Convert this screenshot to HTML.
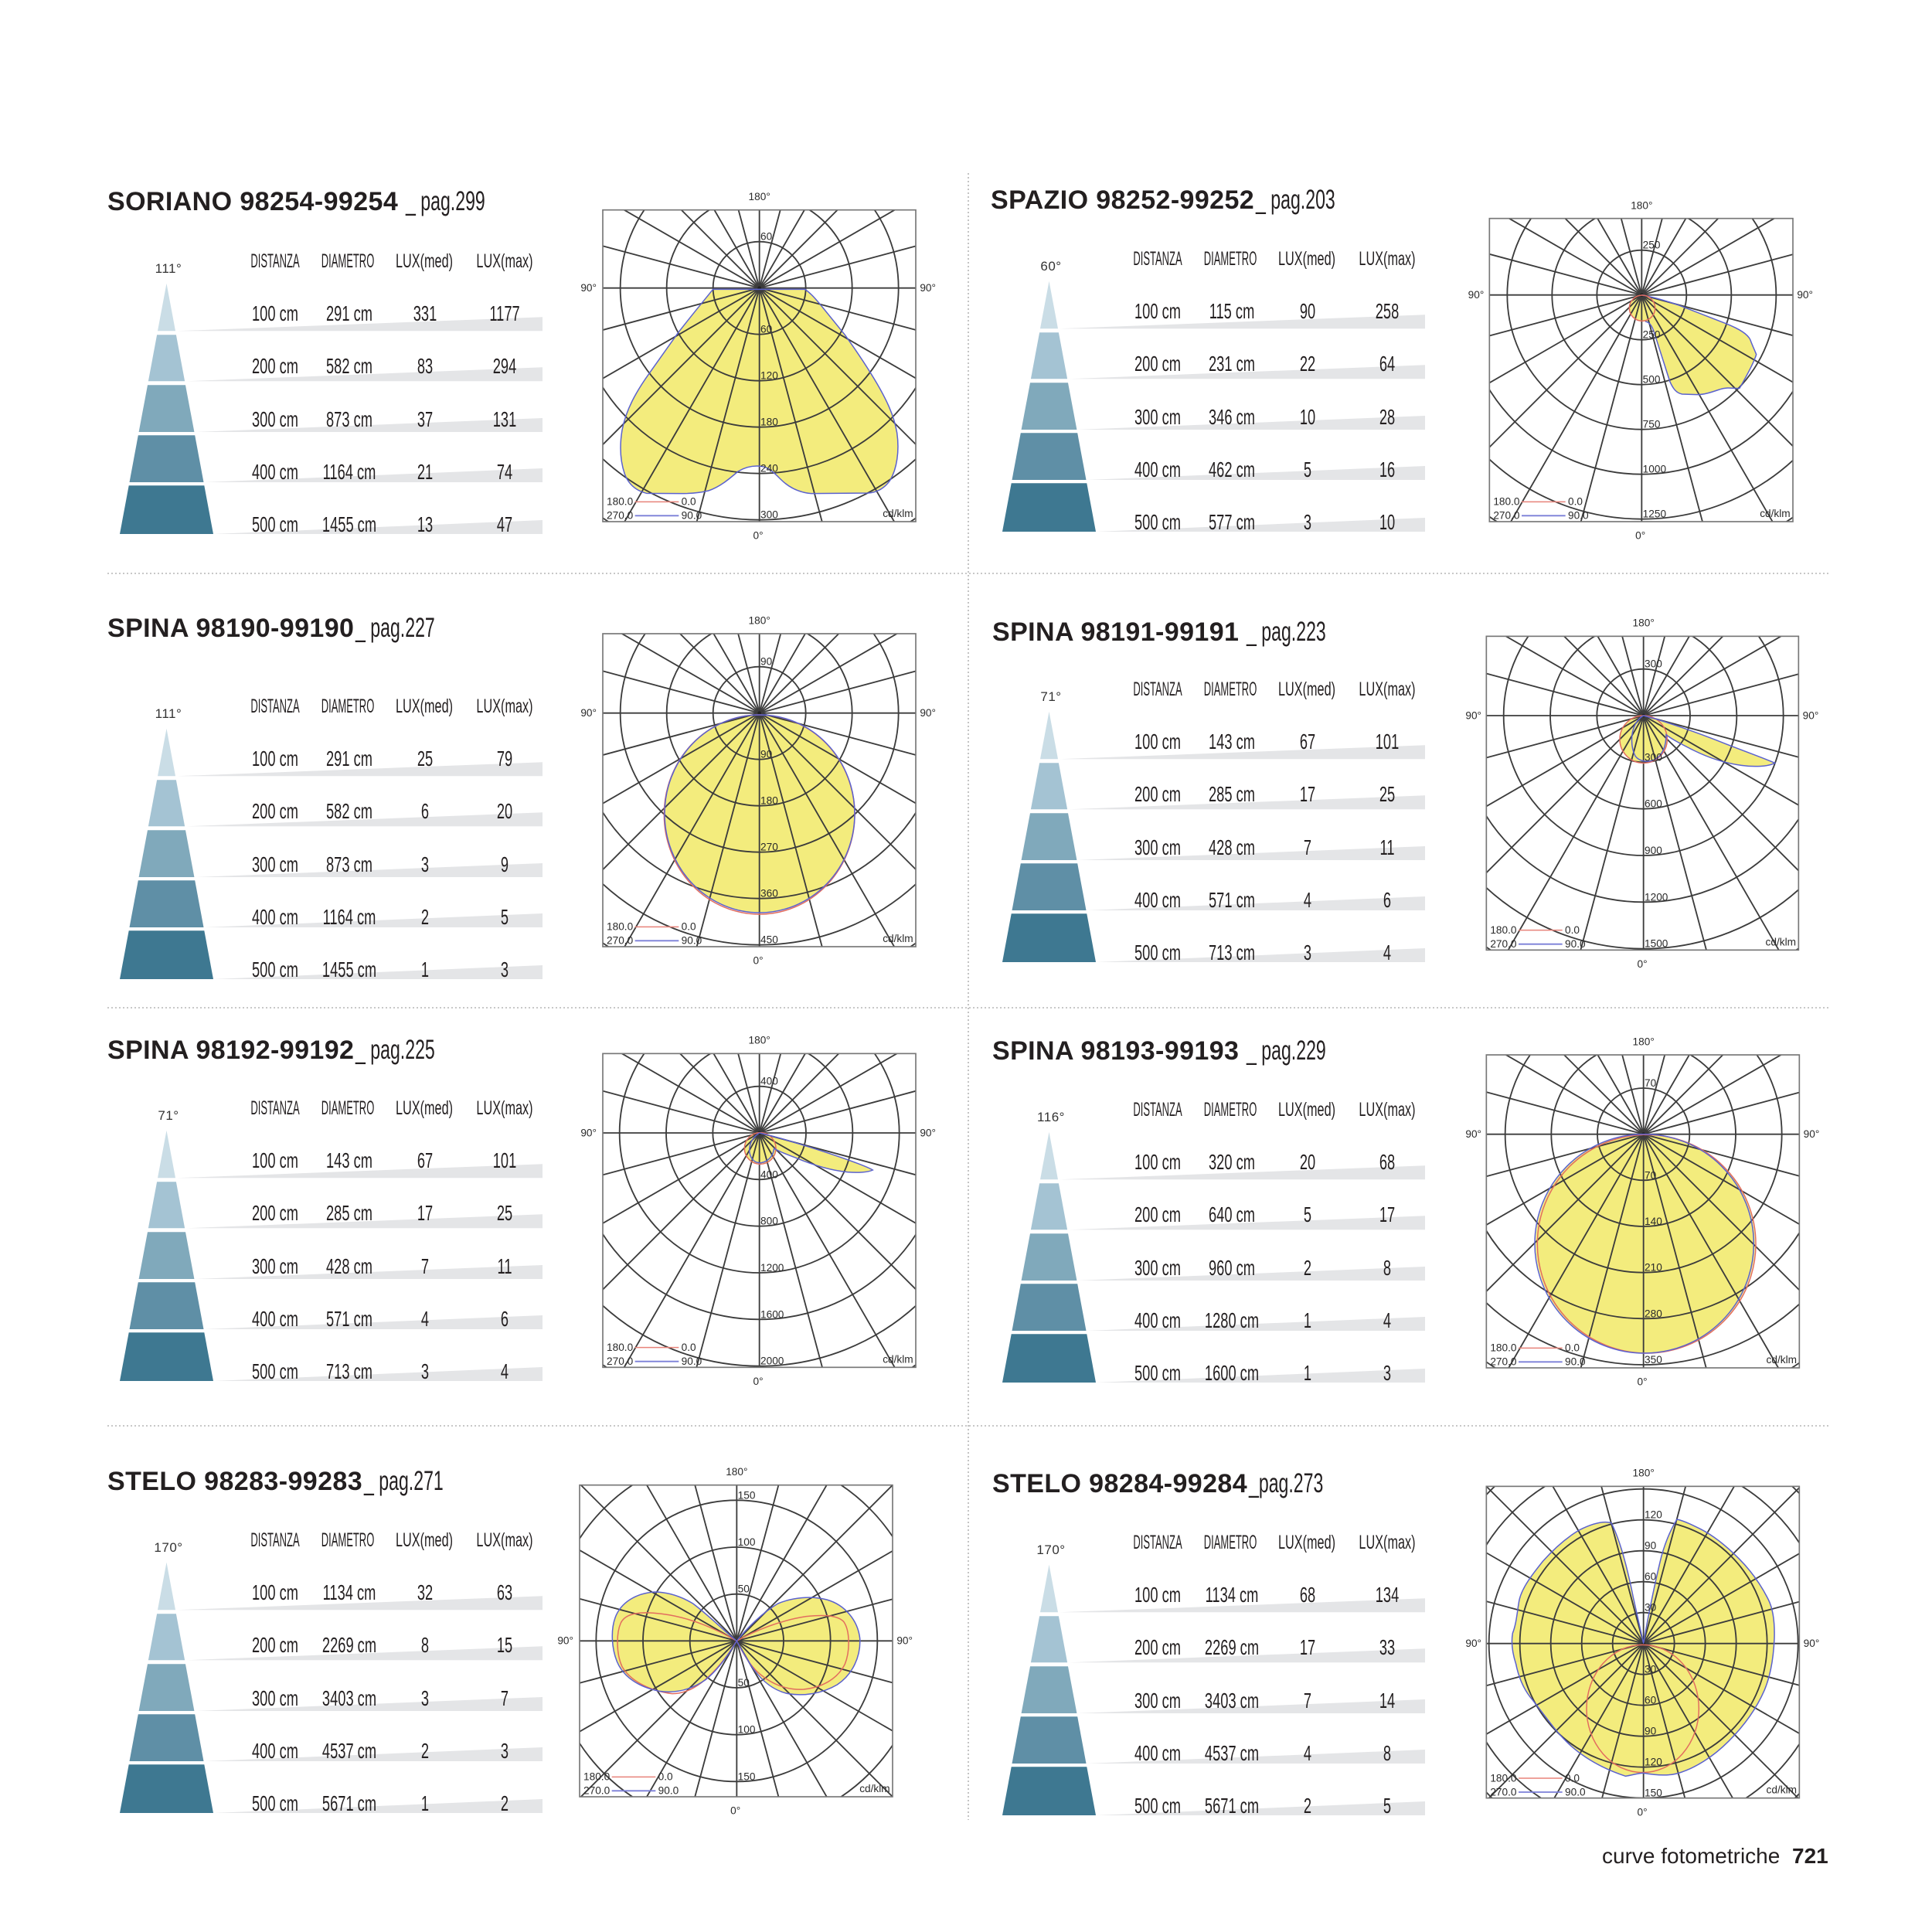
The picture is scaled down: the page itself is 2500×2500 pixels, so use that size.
<!DOCTYPE html>
<html><head><meta charset="utf-8">
<style>
html,body{margin:0;padding:0}
body{width:2500px;height:2500px;position:relative;overflow:hidden;background:#fff;font-family:"Liberation Sans",sans-serif;}
.a{position:absolute;white-space:nowrap}
.ttl{position:absolute;white-space:nowrap;font-size:34px;line-height:34px;font-weight:bold;color:#231f20;letter-spacing:0.4px}
.ttl span{display:inline-block;font-weight:normal;font-size:35px;transform:scaleX(.66);transform-origin:0 0;letter-spacing:0}
.pn{position:absolute;width:0;height:0}
.cn{position:absolute;left:0;top:0;overflow:visible}
.h,.v{position:absolute;width:300px;margin-left:-150px;text-align:center;white-space:nowrap;color:#231f20}
.h{font-size:25px;line-height:25px;top:325.8px;transform:scaleX(.52)}
.h.w{transform:scaleX(.65)}
.v{font-size:28px;line-height:28px;transform:scaleX(.653)}
.ang{position:absolute;width:100px;margin-left:-50px;left:218px;text-align:center;font-size:17px;line-height:17px;top:338.6px;letter-spacing:0.5px;color:#333}
.c1{left:356px}.c2{left:452px}.c3{left:550px}.c4{left:653px}
.hc1{left:356px}.hc2{left:450px}.hc3{left:549px}.hc4{left:653px}
.r1{top:392.3px}.r2{top:460.3px}.r3{top:529.3px}.r4{top:597.3px}.r5{top:665.3px}
.ch{position:absolute;overflow:hidden}
.ch.ov{overflow:visible}
.ch .y{fill:#f3ec7d;stroke:none}
.ch .g{stroke:#3c3c3c;stroke-width:5.5;fill:none}
.ch .bx{fill:none;stroke:#777;stroke-width:5}
.ch .bl{fill:none;stroke:#5b62cf;stroke-width:4.5}
.ch .rd{fill:none;stroke:#e26d5f;stroke-width:4.5}
.ch .lr{stroke:#e8837a;stroke-width:4.5}
.ch .lb{stroke:#7b7fd8;stroke-width:5.5}
.ch text{font-family:"Liberation Sans",sans-serif;font-size:41px;fill:#2a2a2a}
.ch text.m{text-anchor:middle}
.ch text.e{text-anchor:end}
</style></head><body>

<svg width="0" height="0" style="position:absolute;left:0;top:0">
<defs>
<g id="spk">
<line x1="0" y1="-1100" x2="0" y2="1100"/>
<line x1="285" y1="-1063" x2="-285" y2="1063"/>
<line x1="550" y1="-953" x2="-550" y2="953"/>
<line x1="778" y1="-778" x2="-778" y2="778"/>
<line x1="953" y1="-550" x2="-953" y2="550"/>
<line x1="1063" y1="-285" x2="-1063" y2="285"/>
<line x1="-1100" y1="0" x2="1100" y2="0"/>
<line x1="1063" y1="285" x2="-1063" y2="-285"/>
<line x1="953" y1="550" x2="-953" y2="-550"/>
<line x1="778" y1="778" x2="-778" y2="-778"/>
<line x1="550" y1="953" x2="-550" y2="-953"/>
<line x1="285" y1="1063" x2="-285" y2="-1063"/>
</g>
<g id="cone">
<polygon fill="#e4e5e7" points="229,428.3 702,410.3 702,428.3"/>
<polygon fill="#e4e5e7" points="241,493.3 702,475.3 702,493.3"/>
<polygon fill="#e4e5e7" points="253,559 702,541 702,559"/>
<polygon fill="#e4e5e7" points="265,624 702,606 702,624"/>
<polygon fill="#e4e5e7" points="277,691 702,673 702,691"/>
<polygon fill="#cadde6" points="215.5,366.7 227,428.3 204,428.3"/>
<polygon fill="#a4c3d3" points="203.1,433.3 227.9,433.3 239.1,493.3 191.9,493.3"/>
<polygon fill="#80a9bb" points="191,498.3 240,498.3 251.4,559 179.6,559"/>
<polygon fill="#5f8fa6" points="178.8,563.3 252.2,563.3 263.5,624 167.5,624"/>
<polygon fill="#3e7891" points="166.7,628.3 264.3,628.3 276,691 155,691"/>
</g>
</defs>
</svg>

<!-- separators -->
<svg class="a" style="left:0;top:0" width="2500" height="2500">
<g stroke="#b5b5b5" stroke-width="1.6" stroke-dasharray="2 3" fill="none">
<line x1="139" y1="742" x2="2368" y2="742"/>
<line x1="139" y1="1304" x2="2368" y2="1304"/>
<line x1="139" y1="1845" x2="2368" y2="1845"/>
<line x1="1253" y1="224" x2="1253" y2="2355"/>
</g>
</svg>

<!-- TITLES -->
<div class="ttl" style="left:139px;top:244.2px">SORIANO 98254-99254<span style="margin-left:10px">_ pag.299</span></div>
<div class="ttl" style="left:139px;top:796.2px">SPINA 98190-99190<span style="margin-left:2px">_ pag.227</span></div>
<div class="ttl" style="left:139px;top:1342.2px">SPINA 98192-99192<span style="margin-left:2px">_ pag.225</span></div>
<div class="ttl" style="left:139px;top:1900.2px">STELO 98283-99283<span style="margin-left:2px">_ pag.271</span></div>
<div class="ttl" style="left:1282px;top:242.2px">SPAZIO 98252-99252<span style="margin-left:2px">_ pag.203</span></div>
<div class="ttl" style="left:1284px;top:801.2px">SPINA 98191-99191<span style="margin-left:10px">_ pag.223</span></div>
<div class="ttl" style="left:1284px;top:1343.2px">SPINA 98193-99193<span style="margin-left:10px">_ pag.229</span></div>
<div class="ttl" style="left:1284px;top:1903.2px">STELO 98284-99284<span style="margin-left:2px">_pag.273</span></div>

<!-- PANEL L1 -->
<div class="pn" style="left:0;top:0">
<svg class="cn" width="720" height="720"><use href="#cone"/></svg>
<div class="ang">111°</div>
<div class="h hc1">DISTANZA</div><div class="h hc2">DIAMETRO</div><div class="h w hc3">LUX(med)</div><div class="h w hc4">LUX(max)</div>
<div class="v c1 r1">100 cm</div><div class="v c2 r1">291 cm</div><div class="v c3 r1">331</div><div class="v c4 r1">1177</div>
<div class="v c1 r2">200 cm</div><div class="v c2 r2">582 cm</div><div class="v c3 r2">83</div><div class="v c4 r2">294</div>
<div class="v c1 r3">300 cm</div><div class="v c2 r3">873 cm</div><div class="v c3 r3">37</div><div class="v c4 r3">131</div>
<div class="v c1 r4">400 cm</div><div class="v c2 r4">1164 cm</div><div class="v c3 r4">21</div><div class="v c4 r4">74</div>
<div class="v c1 r5">500 cm</div><div class="v c2 r5">1455 cm</div><div class="v c3 r5">13</div><div class="v c4 r5">47</div>
</div>

<!-- PANEL L2 -->
<div class="pn" style="left:0;top:576px">
<svg class="cn" width="720" height="720"><use href="#cone"/></svg>
<div class="ang">111°</div>
<div class="h hc1">DISTANZA</div><div class="h hc2">DIAMETRO</div><div class="h w hc3">LUX(med)</div><div class="h w hc4">LUX(max)</div>
<div class="v c1 r1">100 cm</div><div class="v c2 r1">291 cm</div><div class="v c3 r1">25</div><div class="v c4 r1">79</div>
<div class="v c1 r2">200 cm</div><div class="v c2 r2">582 cm</div><div class="v c3 r2">6</div><div class="v c4 r2">20</div>
<div class="v c1 r3">300 cm</div><div class="v c2 r3">873 cm</div><div class="v c3 r3">3</div><div class="v c4 r3">9</div>
<div class="v c1 r4">400 cm</div><div class="v c2 r4">1164 cm</div><div class="v c3 r4">2</div><div class="v c4 r4">5</div>
<div class="v c1 r5">500 cm</div><div class="v c2 r5">1455 cm</div><div class="v c3 r5">1</div><div class="v c4 r5">3</div>
</div>

<!-- PANEL L3 -->
<div class="pn" style="left:0;top:1096px">
<svg class="cn" width="720" height="720"><use href="#cone"/></svg>
<div class="ang">71°</div>
<div class="h hc1">DISTANZA</div><div class="h hc2">DIAMETRO</div><div class="h w hc3">LUX(med)</div><div class="h w hc4">LUX(max)</div>
<div class="v c1 r1">100 cm</div><div class="v c2 r1">143 cm</div><div class="v c3 r1">67</div><div class="v c4 r1">101</div>
<div class="v c1 r2">200 cm</div><div class="v c2 r2">285 cm</div><div class="v c3 r2">17</div><div class="v c4 r2">25</div>
<div class="v c1 r3">300 cm</div><div class="v c2 r3">428 cm</div><div class="v c3 r3">7</div><div class="v c4 r3">11</div>
<div class="v c1 r4">400 cm</div><div class="v c2 r4">571 cm</div><div class="v c3 r4">4</div><div class="v c4 r4">6</div>
<div class="v c1 r5">500 cm</div><div class="v c2 r5">713 cm</div><div class="v c3 r5">3</div><div class="v c4 r5">4</div>
</div>

<!-- PANEL L4 -->
<div class="pn" style="left:0;top:1655px">
<svg class="cn" width="720" height="720"><use href="#cone"/></svg>
<div class="ang">170°</div>
<div class="h hc1">DISTANZA</div><div class="h hc2">DIAMETRO</div><div class="h w hc3">LUX(med)</div><div class="h w hc4">LUX(max)</div>
<div class="v c1 r1">100 cm</div><div class="v c2 r1">1134 cm</div><div class="v c3 r1">32</div><div class="v c4 r1">63</div>
<div class="v c1 r2">200 cm</div><div class="v c2 r2">2269 cm</div><div class="v c3 r2">8</div><div class="v c4 r2">15</div>
<div class="v c1 r3">300 cm</div><div class="v c2 r3">3403 cm</div><div class="v c3 r3">3</div><div class="v c4 r3">7</div>
<div class="v c1 r4">400 cm</div><div class="v c2 r4">4537 cm</div><div class="v c3 r4">2</div><div class="v c4 r4">3</div>
<div class="v c1 r5">500 cm</div><div class="v c2 r5">5671 cm</div><div class="v c3 r5">1</div><div class="v c4 r5">2</div>
</div>

<!-- PANEL R1 -->
<div class="pn" style="left:1142px;top:-3px">
<svg class="cn" width="720" height="720"><use href="#cone"/></svg>
<div class="ang">60°</div>
<div class="h hc1">DISTANZA</div><div class="h hc2">DIAMETRO</div><div class="h w hc3">LUX(med)</div><div class="h w hc4">LUX(max)</div>
<div class="v c1 r1">100 cm</div><div class="v c2 r1">115 cm</div><div class="v c3 r1">90</div><div class="v c4 r1">258</div>
<div class="v c1 r2">200 cm</div><div class="v c2 r2">231 cm</div><div class="v c3 r2">22</div><div class="v c4 r2">64</div>
<div class="v c1 r3">300 cm</div><div class="v c2 r3">346 cm</div><div class="v c3 r3">10</div><div class="v c4 r3">28</div>
<div class="v c1 r4">400 cm</div><div class="v c2 r4">462 cm</div><div class="v c3 r4">5</div><div class="v c4 r4">16</div>
<div class="v c1 r5">500 cm</div><div class="v c2 r5">577 cm</div><div class="v c3 r5">3</div><div class="v c4 r5">10</div>
</div>

<!-- PANEL R2 -->
<div class="pn" style="left:1142px;top:554px">
<svg class="cn" width="720" height="720"><use href="#cone"/></svg>
<div class="ang">71°</div>
<div class="h hc1">DISTANZA</div><div class="h hc2">DIAMETRO</div><div class="h w hc3">LUX(med)</div><div class="h w hc4">LUX(max)</div>
<div class="v c1 r1">100 cm</div><div class="v c2 r1">143 cm</div><div class="v c3 r1">67</div><div class="v c4 r1">101</div>
<div class="v c1 r2">200 cm</div><div class="v c2 r2">285 cm</div><div class="v c3 r2">17</div><div class="v c4 r2">25</div>
<div class="v c1 r3">300 cm</div><div class="v c2 r3">428 cm</div><div class="v c3 r3">7</div><div class="v c4 r3">11</div>
<div class="v c1 r4">400 cm</div><div class="v c2 r4">571 cm</div><div class="v c3 r4">4</div><div class="v c4 r4">6</div>
<div class="v c1 r5">500 cm</div><div class="v c2 r5">713 cm</div><div class="v c3 r5">3</div><div class="v c4 r5">4</div>
</div>

<!-- PANEL R3 -->
<div class="pn" style="left:1142px;top:1098px">
<svg class="cn" width="720" height="720"><use href="#cone"/></svg>
<div class="ang">116°</div>
<div class="h hc1">DISTANZA</div><div class="h hc2">DIAMETRO</div><div class="h w hc3">LUX(med)</div><div class="h w hc4">LUX(max)</div>
<div class="v c1 r1">100 cm</div><div class="v c2 r1">320 cm</div><div class="v c3 r1">20</div><div class="v c4 r1">68</div>
<div class="v c1 r2">200 cm</div><div class="v c2 r2">640 cm</div><div class="v c3 r2">5</div><div class="v c4 r2">17</div>
<div class="v c1 r3">300 cm</div><div class="v c2 r3">960 cm</div><div class="v c3 r3">2</div><div class="v c4 r3">8</div>
<div class="v c1 r4">400 cm</div><div class="v c2 r4">1280 cm</div><div class="v c3 r4">1</div><div class="v c4 r4">4</div>
<div class="v c1 r5">500 cm</div><div class="v c2 r5">1600 cm</div><div class="v c3 r5">1</div><div class="v c4 r5">3</div>
</div>

<!-- PANEL R4 -->
<div class="pn" style="left:1142px;top:1658px">
<svg class="cn" width="720" height="720"><use href="#cone"/></svg>
<div class="ang">170°</div>
<div class="h hc1">DISTANZA</div><div class="h hc2">DIAMETRO</div><div class="h w hc3">LUX(med)</div><div class="h w hc4">LUX(max)</div>
<div class="v c1 r1">100 cm</div><div class="v c2 r1">1134 cm</div><div class="v c3 r1">68</div><div class="v c4 r1">134</div>
<div class="v c1 r2">200 cm</div><div class="v c2 r2">2269 cm</div><div class="v c3 r2">17</div><div class="v c4 r2">33</div>
<div class="v c1 r3">300 cm</div><div class="v c2 r3">3403 cm</div><div class="v c3 r3">7</div><div class="v c4 r3">14</div>
<div class="v c1 r4">400 cm</div><div class="v c2 r4">4537 cm</div><div class="v c3 r4">4</div><div class="v c4 r4">8</div>
<div class="v c1 r5">500 cm</div><div class="v c2 r5">5671 cm</div><div class="v c3 r5">2</div><div class="v c4 r5">5</div>
</div>

<!-- CHART A: SORIANO -->
<svg class="ch" style="left:740px;top:230px" width="500" height="480" viewBox="0 0 1500 1440">
<defs><clipPath id="kA"><rect x="120" y="125" width="1215" height="1210"/></clipPath></defs>
<path class="y" d="M548,433 L905,433 C930,450 950,475 975,505 L1060,610 C1110,680 1150,740 1185,800 C1220,860 1250,920 1262,990 C1272,1060 1262,1130 1235,1175 C1210,1210 1180,1222 1150,1224 L930,1226 C880,1222 840,1200 810,1170 C780,1140 760,1122 735,1120 C700,1116 670,1125 645,1140 C610,1170 575,1200 530,1215 C490,1225 450,1226 420,1226 L290,1225 C250,1215 220,1190 205,1150 C188,1100 185,1040 195,980 C210,900 250,830 300,760 L410,605 C460,540 510,480 548,433 Z"/>
<g clip-path="url(#kA)" class="g"><use href="#spk" x="728" y="428"/>
<g transform="translate(728 428)"><circle r="180"/><circle r="360"/><circle r="540"/><circle r="720"/><circle r="900"/><circle r="1080"/></g></g>
<circle cx="728" cy="428" r="7" fill="#222"/>
<rect class="bx" x="120" y="125" width="1215" height="1210"/>
<path class="bl" d="M548,433 L905,433 C930,450 950,475 975,505 L1060,610 C1110,680 1150,740 1185,800 C1220,860 1250,920 1262,990 C1272,1060 1262,1130 1235,1175 C1210,1210 1180,1222 1150,1224 L930,1226 C880,1222 840,1200 810,1170 C780,1140 760,1122 735,1120 C700,1116 670,1125 645,1140 C610,1170 575,1200 530,1215 C490,1225 450,1226 420,1226 L290,1225 C250,1215 220,1190 205,1150 C188,1100 185,1040 195,980 C210,900 250,830 300,760 L410,605 C460,540 510,480 548,433 Z"/>
<text x="732" y="242">60</text><text x="732" y="602">60</text><text x="732" y="782">120</text><text x="732" y="962">180</text><text x="732" y="1142">240</text><text x="732" y="1322">300</text>
<text class="m" x="728" y="87">180°</text><text class="m" x="65" y="441">90°</text><text class="m" x="1382" y="441">90°</text><text class="m" x="723" y="1403">0°</text>
<text x="135" y="1271">180.0</text><line class="lr" x1="245" y1="1258" x2="415" y2="1258"/><text x="425" y="1271">0.0</text>
<text x="135" y="1325">270.0</text><line class="lb" x1="245" y1="1312" x2="415" y2="1312"/><text x="425" y="1325">90.0</text>
<text class="e" x="1325" y="1317">cd/klm</text>
</svg>

<!-- CHART B: SPAZIO -->
<svg class="ch ov" style="left:1920px;top:240px" width="440" height="470" viewBox="0 0 1320 1410">
<defs><clipPath id="kB"><rect x="22" y="128" width="1178" height="1177"/></clipPath></defs>
<path class="y" d="M613,425 C650,432 700,445 760,466 L940,536 C990,556 1025,576 1035,600 C1042,620 1052,640 1058,656 C1048,690 1020,740 993,787 C968,790 948,781 918,791 C888,801 858,812 828,812 L770,810 C748,806 735,790 722,760 L662,572 C652,542 642,530 627,528 C602,527 582,515 571,496 C561,476 565,452 579,441 C594,430 605,426 613,425 Z"/>
<g clip-path="url(#kB)" class="g"><use href="#spk" x="613" y="425"/>
<g transform="translate(613 425)"><circle r="174"/><circle r="348"/><circle r="522"/><circle r="696"/><circle r="870"/><circle r="1044"/></g></g>
<circle cx="613" cy="425" r="7" fill="#222"/>
<rect class="bx" x="22" y="128" width="1178" height="1177"/>
<path class="bl" d="M613,425 C650,432 700,445 760,466 L940,536 C990,556 1025,576 1035,600 C1042,620 1052,640 1058,656 C1048,690 1020,740 993,787 C968,790 948,781 918,791 C888,801 858,812 828,812 L770,810 C748,806 735,790 722,760 L662,572 C652,542 642,530 627,528"/>
<circle class="rd" cx="615" cy="476" r="50"/>
<text x="617" y="245">250</text><text x="617" y="593">250</text><text x="617" y="767">500</text><text x="617" y="941">750</text><text x="617" y="1115">1000</text><text x="617" y="1289">1250</text>
<text class="m" x="613" y="92">180°</text><text class="m" x="-30" y="438">90°</text><text class="m" x="1247" y="438">90°</text><text class="m" x="608" y="1373">0°</text>
<text x="37" y="1241">180.0</text><line class="lr" x1="147" y1="1228" x2="317" y2="1228"/><text x="327" y="1241">0.0</text>
<text x="37" y="1295">270.0</text><line class="lb" x1="147" y1="1282" x2="317" y2="1282"/><text x="327" y="1295">90.0</text>
<text class="e" x="1190" y="1287">cd/klm</text>
</svg>

<!-- CHART C: SPINA 98190 -->
<svg class="ch" style="left:740px;top:790px" width="480" height="480" viewBox="0 0 1440 1440">
<defs><clipPath id="kC"><rect x="120" y="90" width="1215" height="1215"/></clipPath></defs>
<ellipse class="y" cx="728" cy="790" rx="370" ry="385"/>
<g clip-path="url(#kC)" class="g"><use href="#spk" x="728" y="398"/>
<g transform="translate(728 398)"><circle r="180"/><circle r="360"/><circle r="540"/><circle r="720"/><circle r="900"/><circle r="1080"/></g></g>
<circle cx="728" cy="398" r="7" fill="#222"/>
<rect class="bx" x="120" y="90" width="1215" height="1215"/>
<ellipse class="rd" cx="728" cy="792" rx="370" ry="387"/>
<ellipse class="bl" cx="729" cy="789" rx="369" ry="384"/>
<text x="732" y="212">90</text><text x="732" y="572">90</text><text x="732" y="752">180</text><text x="732" y="932">270</text><text x="732" y="1112">360</text><text x="732" y="1292">450</text>
<text class="m" x="728" y="52">180°</text><text class="m" x="65" y="411">90°</text><text class="m" x="1382" y="411">90°</text><text class="m" x="723" y="1373">0°</text>
<text x="135" y="1241">180.0</text><line class="lr" x1="245" y1="1228" x2="415" y2="1228"/><text x="425" y="1241">0.0</text>
<text x="135" y="1295">270.0</text><line class="lb" x1="245" y1="1282" x2="415" y2="1282"/><text x="425" y="1295">90.0</text>
<text class="e" x="1325" y="1287">cd/klm</text>
</svg>

<!-- CHART D: SPINA 98191 -->
<svg class="ch ov" style="left:1900px;top:790px" width="480" height="480" viewBox="0 0 1440 1440">
<defs><clipPath id="kD"><rect x="70" y="100" width="1212" height="1218"/></clipPath></defs>
<circle class="y" cx="680" cy="500" r="92"/>
<path class="y" d="M680,408 C760,428 900,478 1000,518 C1090,553 1160,578 1190,592 C1165,606 1110,608 1060,601 C990,592 930,570 875,543 C830,520 790,500 768,482 L740,470 L680,408 Z"/>
<g clip-path="url(#kD)" class="g"><use href="#spk" x="680" y="408"/>
<g transform="translate(680 408)"><circle r="181"/><circle r="362"/><circle r="543"/><circle r="724"/><circle r="905"/><circle r="1086"/></g></g>
<circle cx="680" cy="408" r="7" fill="#222"/>
<rect class="bx" x="70" y="100" width="1212" height="1218"/>
<circle class="rd" cx="680" cy="500" r="92"/>
<path class="bl" d="M680,408 C760,428 900,478 1000,518 C1090,553 1160,578 1190,592 C1165,606 1110,608 1060,601 C990,592 930,570 875,543 C830,520 790,500 768,482 C768,525 755,560 725,578 C700,590 665,588 648,565 C630,530 630,475 648,442 C658,425 670,412 680,408"/>
<text x="684" y="221">300</text><text x="684" y="583">300</text><text x="684" y="764">600</text><text x="684" y="945">900</text><text x="684" y="1126">1200</text><text x="684" y="1307">1500</text>
<text class="m" x="680" y="62">180°</text><text class="m" x="20" y="421">90°</text><text class="m" x="1329" y="421">90°</text><text class="m" x="675" y="1386">0°</text>
<text x="85" y="1254">180.0</text><line class="lr" x1="195" y1="1241" x2="365" y2="1241"/><text x="375" y="1254">0.0</text>
<text x="85" y="1308">270.0</text><line class="lb" x1="195" y1="1295" x2="365" y2="1295"/><text x="375" y="1308">90.0</text>
<text class="e" x="1272" y="1300">cd/klm</text>
</svg>

<!-- CHART E: SPINA 98192 -->
<svg class="ch" style="left:740px;top:1330px" width="480" height="480" viewBox="0 0 1440 1440">
<defs><clipPath id="kE"><rect x="120" y="100" width="1215" height="1218"/></clipPath></defs>
<circle class="y" cx="731" cy="468" r="61"/>
<path class="y" d="M728,408 C800,424 950,470 1050,505 C1110,526 1150,541 1168,552 C1150,561 1110,563 1070,560 C1000,553 930,530 870,505 C830,490 800,478 785,468 L728,408 Z"/>
<g clip-path="url(#kE)" class="g"><use href="#spk" x="728" y="408"/>
<g transform="translate(728 408)"><circle r="181"/><circle r="362"/><circle r="543"/><circle r="724"/><circle r="905"/><circle r="1086"/></g></g>
<circle cx="728" cy="408" r="7" fill="#222"/>
<rect class="bx" x="120" y="100" width="1215" height="1218"/>
<circle class="rd" cx="731" cy="468" r="61"/>
<path class="bl" d="M728,408 C800,424 950,470 1050,505 C1110,526 1150,541 1168,552 C1150,561 1110,563 1070,560 C1000,553 930,530 870,505 C830,490 800,478 785,468 C782,495 765,518 735,524 C710,526 695,510 690,485 C686,455 700,425 728,408"/>
<text x="732" y="221">400</text><text x="732" y="583">400</text><text x="732" y="764">800</text><text x="732" y="945">1200</text><text x="732" y="1126">1600</text><text x="732" y="1307">2000</text>
<text class="m" x="728" y="62">180°</text><text class="m" x="65" y="421">90°</text><text class="m" x="1382" y="421">90°</text><text class="m" x="723" y="1386">0°</text>
<text x="135" y="1254">180.0</text><line class="lr" x1="245" y1="1241" x2="415" y2="1241"/><text x="425" y="1254">0.0</text>
<text x="135" y="1308">270.0</text><line class="lb" x1="245" y1="1295" x2="415" y2="1295"/><text x="425" y="1308">90.0</text>
<text class="e" x="1325" y="1300">cd/klm</text>
</svg>

<!-- CHART F: SPINA 98193 -->
<svg class="ch ov" style="left:1900px;top:1330px" width="480" height="480" viewBox="0 0 1440 1440">
<defs><clipPath id="kF"><rect x="70" y="105" width="1215" height="1215"/></clipPath></defs>
<circle class="y" cx="687" cy="838" r="426"/>
<g clip-path="url(#kF)" class="g"><use href="#spk" x="680" y="413"/>
<g transform="translate(680 413)"><circle r="179"/><circle r="358"/><circle r="537"/><circle r="716"/><circle r="895"/><circle r="1074"/></g></g>
<circle cx="680" cy="413" r="7" fill="#222"/>
<rect class="bx" x="70" y="105" width="1215" height="1215"/>
<circle class="rd" cx="692" cy="839" r="424"/>
<circle class="bl" cx="683" cy="838" r="425"/>
<text x="684" y="228">70</text><text x="684" y="586">70</text><text x="684" y="765">140</text><text x="684" y="944">210</text><text x="684" y="1123">280</text><text x="684" y="1302">350</text>
<text class="m" x="680" y="67">180°</text><text class="m" x="20" y="426">90°</text><text class="m" x="1332" y="426">90°</text><text class="m" x="675" y="1388">0°</text>
<text x="85" y="1256">180.0</text><line class="lr" x1="195" y1="1243" x2="365" y2="1243"/><text x="375" y="1256">0.0</text>
<text x="85" y="1310">270.0</text><line class="lb" x1="195" y1="1297" x2="365" y2="1297"/><text x="375" y="1310">90.0</text>
<text class="e" x="1275" y="1302">cd/klm</text>
</svg>

<!-- CHART G: STELO 98283 -->
<svg class="ch" style="left:710px;top:1880px" width="480" height="480" viewBox="0 0 1440 1440">
<defs><clipPath id="kG"><rect x="120" y="125" width="1215" height="1210"/></clipPath></defs>
<path class="y" d="M730,730 C680,690 620,630 560,585 C510,555 460,540 410,540 C340,545 280,580 258,640 C240,690 245,760 265,810 C290,870 350,910 430,925 C500,935 560,915 610,880 C660,840 700,780 730,730 Z"/>
<path class="y" d="M730,730 C770,680 830,620 890,585 C950,560 1020,555 1080,570 C1150,590 1200,650 1208,720 C1212,790 1180,860 1120,900 C1060,935 990,945 930,935 C860,920 810,870 770,800 C755,775 740,750 730,730 Z"/>
<g clip-path="url(#kG)" class="g"><use href="#spk" x="730" y="730"/>
<g transform="translate(730 730)"><circle r="182"/><circle r="364"/><circle r="546"/><circle r="728"/></g></g>
<circle cx="730" cy="730" r="7" fill="#222"/>
<rect class="bx" x="120" y="125" width="1215" height="1210"/>
<path class="rd" d="M730,730 C660,690 560,640 440,625 C360,615 300,620 280,660 C262,700 262,780 285,830 C320,890 400,925 480,935 C560,935 630,870 690,790 C705,770 720,745 730,730 Z"/>
<path class="rd" d="M730,730 C800,690 900,650 1000,635 C1070,628 1120,630 1145,655 C1170,690 1170,770 1150,820 C1120,880 1060,910 990,918 C920,922 860,895 810,850 C770,810 745,760 730,730 Z"/>
<path class="bl" d="M730,730 C680,690 620,630 560,585 C510,555 460,540 410,540 C340,545 280,580 258,640 C240,690 245,760 265,810 C290,870 350,910 430,925 C500,935 560,915 610,880 C660,840 700,780 730,730 Z"/>
<path class="bl" d="M730,730 C770,680 830,620 890,585 C950,560 1020,555 1080,570 C1150,590 1200,650 1208,720 C1212,790 1180,860 1120,900 C1060,935 990,945 930,935 C860,920 810,870 770,800 C755,775 740,750 730,730 Z"/>
<text x="734" y="178">150</text><text x="734" y="360">100</text><text x="734" y="542">50</text><text x="734" y="906">50</text><text x="734" y="1088">100</text><text x="734" y="1270">150</text>
<text class="m" x="730" y="87">180°</text><text class="m" x="65" y="743">90°</text><text class="m" x="1382" y="743">90°</text><text class="m" x="725" y="1403">0°</text>
<text x="135" y="1271">180.0</text><line class="lr" x1="245" y1="1258" x2="415" y2="1258"/><text x="425" y="1271">0.0</text>
<text x="135" y="1325">270.0</text><line class="lb" x1="245" y1="1312" x2="415" y2="1312"/><text x="425" y="1325">90.0</text>
<text class="e" x="1325" y="1317">cd/klm</text>
</svg>

<!-- CHART H: STELO 98284 -->
<svg class="ch ov" style="left:1900px;top:1880px" width="480" height="480" viewBox="0 0 1440 1440">
<defs><clipPath id="kH"><rect x="70" y="130" width="1215" height="1210"/></clipPath></defs>
<path class="y" d="M680,740 L640,560 C620,460 590,340 555,272 C520,262 470,280 430,300 C380,330 330,375 290,420 C250,470 210,520 198,570 C190,610 188,660 172,700 C165,740 172,780 185,820 C195,870 215,920 250,960 C290,1010 330,1070 380,1120 C440,1180 520,1225 610,1255 C640,1250 660,1243 680,1243 C720,1250 770,1255 810,1245 C880,1225 950,1180 1010,1120 C1070,1060 1120,990 1150,920 C1175,860 1185,790 1188,720 C1190,650 1180,600 1165,570 C1140,520 1100,460 1050,410 C1000,360 950,320 900,295 C870,280 840,265 810,258 C790,290 770,330 750,400 C730,480 700,620 680,740 Z"/>
<g clip-path="url(#kH)" class="g"><use href="#spk" x="680" y="740"/>
<g transform="translate(680 740)"><circle r="120"/><circle r="240"/><circle r="360"/><circle r="480"/><circle r="600"/><circle r="720"/><circle r="840"/></g></g>
<circle cx="680" cy="740" r="7" fill="#222"/>
<rect class="bx" x="70" y="130" width="1215" height="1210"/>
<ellipse class="rd" cx="677" cy="993" rx="218" ry="248"/>
<path class="bl" d="M680,740 L640,560 C620,460 590,340 555,272 C520,262 470,280 430,300 C380,330 330,375 290,420 C250,470 210,520 198,570 C190,610 188,660 172,700 C165,740 172,780 185,820 C195,870 215,920 250,960 C290,1010 330,1070 380,1120 C440,1180 520,1225 610,1255 C640,1250 660,1243 680,1243 C720,1250 770,1255 810,1245 C880,1225 950,1180 1010,1120 C1070,1060 1120,990 1150,920 C1175,860 1185,790 1188,720 C1190,650 1180,600 1165,570 C1140,520 1100,460 1050,410 C1000,360 950,320 900,295 C870,280 840,265 810,258 C790,290 770,330 750,400 C730,480 700,620 680,740 Z"/>
<text x="684" y="254">120</text><text x="684" y="374">90</text><text x="684" y="494">60</text><text x="684" y="614">30</text><text x="684" y="854">30</text><text x="684" y="974">60</text><text x="684" y="1094">90</text><text x="684" y="1214">120</text><text x="684" y="1334">150</text>
<text class="m" x="680" y="92">180°</text><text class="m" x="20" y="753">90°</text><text class="m" x="1332" y="753">90°</text><text class="m" x="675" y="1408">0°</text>
<text x="85" y="1276">180.0</text><line class="lr" x1="195" y1="1263" x2="365" y2="1263"/><text x="375" y="1276">0.0</text>
<text x="85" y="1330">270.0</text><line class="lb" x1="195" y1="1317" x2="365" y2="1317"/><text x="375" y="1330">90.0</text>
<text class="e" x="1275" y="1322">cd/klm</text>
</svg>

<!-- FOOTER -->
<div class="a" style="left:2073px;top:2388.3px;font-size:28px;line-height:28px;color:#231f20">curve fotometriche</div>
<div class="a" style="left:2319px;top:2388.3px;font-size:28px;line-height:28px;font-weight:bold;color:#231f20">721</div>

</body></html>
